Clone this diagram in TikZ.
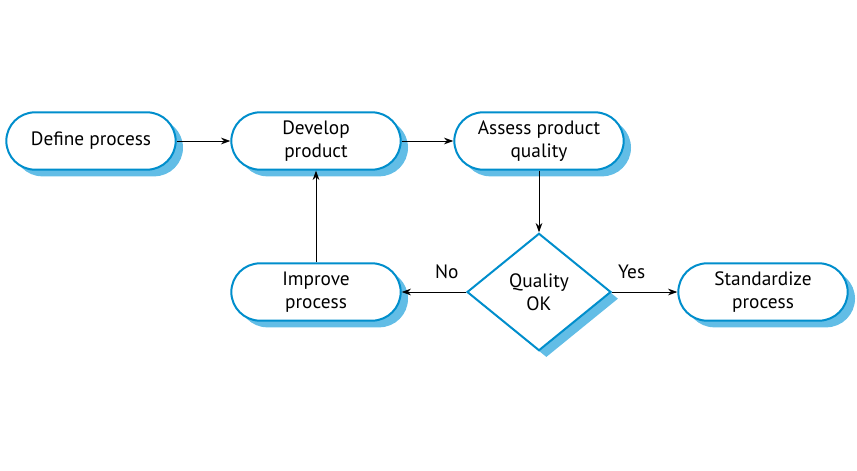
\documentclass[tikz,border=0pt]{standalone}
\usepackage{fontspec}
\setmainfont{PT Sans}
\usetikzlibrary{shapes.geometric, shadows, arrows.meta}
\definecolor{boxline}{RGB}{0,142,204}
\definecolor{boxshade}{RGB}{98,189,230}
\tikzset{
    stepbox/.style = {draw = boxline, line width = 1.5pt, fill = white,
        rounded corners = 21.5pt, minimum width = 127pt, minimum height = 43pt,
        align = center, font = \fontsize{14.5}{17}\selectfont,
        drop shadow = {shadow xshift = 5.5pt, shadow yshift = -5pt,
            fill = boxshade, opacity = 1}},
    choice/.style = {diamond, draw = boxline, line width = 1.5pt, fill = white,
        minimum width = 108pt, minimum height = 88pt, inner sep = 0pt,
        align = center, font = \fontsize{14.5}{17}\selectfont,
        drop shadow = {shadow xshift = 5.5pt, shadow yshift = -5pt,
            fill = boxshade, opacity = 1}},
    flow/.style = {-{Stealth[length = 7pt, width = 5pt]}, line width = .6pt},
    answer/.style = {above = 6pt, font = \fontsize{14.5}{17}\selectfont}
}

\begin{document}
\begin{tikzpicture}[x = .75pt, y = -.75pt]
    \useasboundingbox (0,0) rectangle (857,471);
    \node[stepbox] (define) at (91,141) {Define process};
    \node[stepbox] (develop) at (316,141) {Develop\\product};
    \node[stepbox] (assess) at (539,141) {Assess product\\quality};
    \node[choice] (ok) at (539,292) {Quality\\OK};
    \node[stepbox] (improve) at (316,292) {Improve\\process};
    \node[stepbox] (standard) at (763,292) {Standardize\\process};

    \draw[flow] (define) -- (develop);
    \draw[flow] (develop) -- (assess);
    \draw[flow] (assess) -- (ok);
    \draw[flow] (ok) -- node[answer, pos = .3] (no) {No} (improve);
    \draw[flow] (ok) -- node[answer, pos = .3] (yes) {Yes} (standard);
    \draw[flow] (improve) -- (develop);
\end{tikzpicture}
\end{document}
